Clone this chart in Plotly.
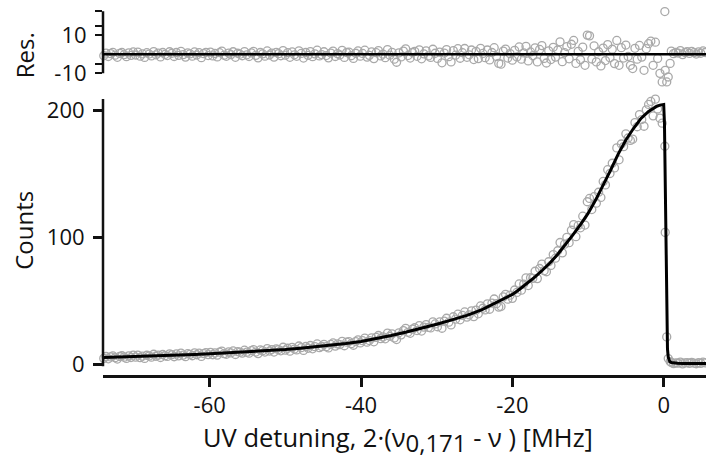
import plotly.graph_objects as go

# ---- measured spectrum: UV detuning [MHz], photon counts, fit residuals ----
detuning = [
    -74.0, -73.7, -73.4, -73.1, -72.8, -72.5, -72.2, -71.9, -71.6, -71.3, -71.0, -70.7, -70.4, -70.1,
    -69.8, -69.5, -69.2, -68.9, -68.6, -68.3, -68.0, -67.7, -67.4, -67.1, -66.8, -66.5, -66.2, -65.9, -65.6, -65.3,
    -65.0, -64.7, -64.4, -64.1, -63.8, -63.5, -63.2, -62.9, -62.6, -62.3, -62.0, -61.7, -61.4, -61.1, -60.8, -60.5, -60.2,
    -59.9, -59.6, -59.3, -59.0, -58.7, -58.4, -58.1, -57.8, -57.5, -57.2, -56.9, -56.6, -56.3, -56.0, -55.7, -55.4, -55.1,
    -54.8, -54.5, -54.2, -53.9, -53.6, -53.3, -53.0, -52.7, -52.4, -52.1, -51.8, -51.5, -51.2, -50.9, -50.6, -50.3, -50.0,
    -49.7, -49.4, -49.1, -48.8, -48.5, -48.2, -47.9, -47.6, -47.3, -47.0, -46.7, -46.4, -46.1, -45.8, -45.5, -45.2,
    -44.9, -44.6, -44.3, -44.0, -43.7, -43.4, -43.1, -42.8, -42.5, -42.2, -41.9, -41.6, -41.3, -41.0, -40.7, -40.4, -40.1,
    -39.8, -39.5, -39.2, -38.9, -38.6, -38.3, -38.0, -37.7, -37.4, -37.1, -36.8, -36.5, -36.2, -35.9, -35.6, -35.3, -35.0,
    -34.7, -34.4, -34.1, -33.8, -33.5, -33.2, -32.9, -32.6, -32.3, -32.0, -31.7, -31.4, -31.1, -30.8, -30.5, -30.2,
    -29.9, -29.6, -29.3, -29.0, -28.7, -28.4, -28.1, -27.8, -27.5, -27.2, -26.9, -26.6, -26.3, -26.0, -25.7, -25.4, -25.1,
    -24.8, -24.5, -24.2, -23.9, -23.6, -23.3, -23.0, -22.7, -22.4, -22.1, -21.8, -21.5, -21.2, -20.9, -20.6, -20.3,
    -20.0, -19.7, -19.4, -19.1, -18.8, -18.5, -18.2, -17.9, -17.6, -17.3, -17.0, -16.7, -16.4, -16.1, -15.8, -15.5, -15.2,
    -14.9, -14.6, -14.3, -14.0, -13.7, -13.4, -13.1, -12.8, -12.5, -12.2,
    -11.9, -11.6, -11.3, -11.0, -10.7, -10.4, -10.1,
    -9.8, -9.5, -9.2, -8.9, -8.6, -8.3, -8.0,
    -7.7, -7.4, -7.1, -6.8, -6.5, -6.2,
    -5.9, -5.6, -5.3, -5.0,
    -4.7, -4.4, -4.1,
    -3.8, -3.5, -3.2,
    -2.9, -2.6, -2.3, -2.0,
    -1.7, -1.4, -1.1,
    -0.8, -0.5, -0.2,
    0.15, 0.2, 0.4, 0.6, 0.85,
    1.0, 1.3, 1.6, 1.9, 2.2, 2.5, 2.8, 3.1, 3.4, 3.7, 4.0, 4.3, 4.6, 4.9, 5.2, 5.5, 5.8,
]

counts = [
    4.5, 6.0, 4.2, 5.7, 6.5, 5.0, 4.0, 6.0, 6.6, 5.5, 4.5, 6.5, 5.2, 7.1,
    5.5, 7.1, 5.1, 6.3, 4.5, 7.0, 6.4, 5.5, 7.8, 6.2, 7.1, 5.2, 7.6, 6.6, 6.1, 8.1,
    7.4, 5.8, 8.0, 6.5, 8.7, 7.1, 5.9, 8.2, 7.7, 6.6, 8.9, 7.4, 8.6, 6.1, 8.3, 9.1, 7.5,
    9.3, 7.4, 8.8, 7.1, 9.4, 10.3, 8.3, 7.8, 9.6, 8.8, 10.4, 7.6, 9.8, 9.4, 8.7, 11.0, 9.4,
    8.6, 10.6, 11.5, 9.5, 8.3, 11.2, 10.6, 9.5, 12.3, 10.3, 11.5, 9.5, 12.1, 11.5, 10.5, 13.3, 11.0,
    12.5, 10.2, 13.2, 11.9, 11.2, 14.3, 13.0, 10.8, 13.9, 12.5, 14.7, 12.1, 13.8, 15.9, 13.0, 13.9,
    15.6, 13.8, 12.8, 15.5, 16.7, 14.2, 15.9, 15.4, 18.0, 14.5, 17.3, 17.8, 16.1, 14.9, 17.8, 19.2, 16.7,
    18.5, 20.5, 17.3, 18.6, 20.7, 17.6, 21.1, 22.6, 20.1, 21.5, 20.0, 24.5, 22.0, 23.9, 20.7, 19.4, 24.7,
    23.1, 26.5, 28.2, 25.1, 24.3, 27.6, 28.7, 26.5, 30.4, 26.1, 29.2, 31.2, 29.0, 28.6, 33.4, 31.7,
    29.5, 33.3, 28.3, 33.9, 36.2, 33.1, 30.9, 37.4, 35.5, 39.4, 35.0, 38.4, 41.2, 37.1, 38.9, 42.0, 37.5,
    42.6, 39.7, 45.9, 44.1, 42.8, 47.6, 43.3, 48.1, 51.4, 47.7, 45.0, 45.5, 53.1, 55.1, 51.3, 54.4,
    51.9, 58.5, 56.6, 63.3, 58.4, 63.2, 68.1, 62.0, 68.2, 67.7, 73.3, 67.5, 75.5, 79.0, 73.8, 72.9, 80.8,
    77.9, 86.5, 83.6, 89.5, 96.0, 87.8, 94.7, 100.1, 95.9, 105.7,
    110.1, 100.6, 109.5, 107.6, 116.8, 109.8, 128.2,
    130.8, 122.0, 132.2, 127.1, 135.7, 131.6, 144.2,
    141.5, 153.5, 150.5, 158.6, 154.9, 170.7,
    161.3, 173.8, 171.7, 181.8,
    178.5, 176.6, 177.6,
    190.7, 187.4, 197.0,
    193.1, 187.8, 200.8, 205.0,
    207.4, 196.0, 209.2,
    201.4, 194.2, 190.2,
    172.0, 104.0, 21.5, 4.4, 2.0,
    1.3, 0.4, 1.0, 0.7, 1.6, 0.2, 0.9, 1.2, 0.5, 1.4, 0.8, 0.3, 1.1, 0.6, 1.5, 0.9, 0.4,
]

residuals = [
    -0.8, 0.6, -1.2, 0.3, 1.0, -0.5, -1.6, 0.4, 0.9, -0.2, -1.3, 0.7, -0.6, 1.2,
    -0.4, 1.1, -1.0, 0.2, -1.7, 0.8, 0.1, -0.9, 1.4, -0.3, 0.6, -1.4, 0.9, -0.1, -0.7, 1.3,
    0.5, -1.2, 0.9, -0.6, 1.5, -0.2, -1.5, 0.7, 0.2, -1.0, 1.2, -0.4, 0.8, -1.8, 0.3, 1.0, -0.7,
    1.1, -0.9, 0.4, -1.4, 0.8, 1.6, -0.5, -1.1, 0.6, -0.2, 1.3, -1.6, 0.5, 0.0, -0.8, 1.4, -0.3,
    -1.2, 0.7, 1.5, -0.6, -1.9, 0.9, 0.2, -1.0, 1.7, -0.4, 0.6, -1.5, 1.0, 0.3, -0.8, 1.9, -0.5,
    0.8, -1.6, 1.2, -0.3, -1.1, 1.8, 0.4, -2.0, 0.9, -0.6, 1.4, -1.3, 0.2, 2.1, -0.9, -0.2,
    1.3, -0.7, -1.9, 0.6, 1.6, -1.2, 0.3, -0.4, 2.0, -1.7, 0.9, 1.1, -0.8, -2.2, 0.5, 1.7, -1.0,
    0.4, 2.1, -1.5, -0.6, 1.2, -2.3, 0.8, 1.9, -0.9, 0.1, -1.8, 2.4, -0.5, 1.0, -2.6, -4.2, 0.7,
    -1.4, 1.6, 2.8, -0.7, -2.0, 0.9, 1.5, -1.1, 2.3, -2.4, 0.2, 1.8, -0.9, -1.7, 2.6, 0.5,
    -2.2, 1.1, -4.5, 0.6, 2.4, -1.3, -4.0, 1.9, -0.5, 2.9, -2.1, 0.8, 3.0, -1.6, -0.3, 2.2, -2.8,
    1.5, -2.3, 3.1, 0.4, -1.8, 2.2, -3.0, 0.9, 3.4, -1.2, -4.8, -5.2, 1.6, 2.7, -2.0, 0.3,
    -3.1, 2.0, -1.4, 3.8, -2.6, 0.7, 4.1, -3.5, 1.2, -0.8, 3.3, -4.0, 2.5, 4.5, -2.2, -4.6, 1.8,
    -2.8, 3.6, -1.5, 2.2, 6.5, -3.9, 0.8, 4.0, -2.4, 5.2,
    7.2, -4.8, 1.5, -2.9, 3.7, -5.8, 10.0,
    9.6, -2.5, 4.4, -4.0, 1.3, -6.1, 3.2,
    -3.3, 5.0, -1.8, 2.6, -4.9, 7.2,
    -5.8, 3.4, -2.0, 4.8,
    -1.2, -5.8, -7.5,
    3.1, -2.6, 4.6,
    -1.5, -8.4, 2.9, 5.5,
    6.8, -5.8, 6.3,
    -2.2, -10.0, -14.5,
    22.3, -8.4, -14.5, -11.9, -4.8,
    1.6, 0.3, 1.0, 0.6, 1.9, -0.2, 0.9, 1.3, 0.4, 1.5, 0.8, 0.1, 1.2, 0.5, 1.7, 0.9, 0.2,
]

# ---- fitted line shape ----
fit_detuning = [
    -74, -72, -70, -68, -66, -64, -62, -60, -58, -56, -54, -52, -50, -48, -46, -44, -42, -40,
    -38, -36, -34, -32, -30, -28, -26, -24, -22, -20, -19, -18, -17, -16, -15, -14, -13, -12,
    -11, -10, -9, -8, -7, -6, -5, -4, -3, -2, -1.5, -1, -0.5, 0,
    0.1, 0.2, 0.3, 0.4, 0.5, 0.6, 0.7, 0.8, 1.0, 1.3, 1.8, 2.5, 5.8,
]
fit_counts = [
    5.3, 5.6, 5.9, 6.3, 6.7, 7.1, 7.65, 8.2, 8.8, 9.4, 10.0, 10.7, 11.5, 12.5, 13.6, 14.9, 16.2, 17.8,
    20.1, 22.6, 25.3, 28.2, 31.5, 34.9, 38.5, 43.0, 48.7, 55.0, 59.3, 63.9, 68.9, 74.3, 80.0, 86.8, 94.1, 102.0,
    110.2, 119.0, 129.5, 141.0, 153.3, 166.0, 177.0, 186.0, 194.0, 199.5, 201.6, 203.3, 204.5, 205.0,
    190.0, 140.0, 70.0, 30.0, 12.0, 5.5, 3.0, 2.0, 1.2, 0.8, 0.6, 0.5, 0.5,
]

# ---- axis ticks ----
x_tickvals = [-60, -40, -20, 0]
x_ticktext = ["-60", "-40", "-20", "0"]
y_tickvals = [0, 100, 200]
y_ticktext = ["0", "100", "200"]
res_tickvals = [-10, 10]
res_ticktext = ["-10", "10"]
res_minor_ticks = [-5, 15, 22.5]

GREY = "#a9a9a9"
INK = "#111111"
FONT = "Open Sans"

marker_style = dict(symbol="circle-open", size=8, color=GREY, line=dict(width=1.3, color=GREY))

fig = go.Figure()

fig.add_trace(go.Scatter(
    x=detuning, y=counts, mode="markers", marker=marker_style,
    xaxis="x", yaxis="y", cliponaxis=False, showlegend=False,
))
fig.add_trace(go.Scatter(
    x=fit_detuning, y=fit_counts, mode="lines", line=dict(color="black", width=3),
    xaxis="x", yaxis="y", cliponaxis=False, showlegend=False,
))
fig.add_trace(go.Scatter(
    x=detuning, y=residuals, mode="markers", marker=marker_style,
    xaxis="x2", yaxis="y2", cliponaxis=False, showlegend=False,
))

axis_common = dict(
    showgrid=False, zeroline=False, ticks="outside", tickcolor=INK,
    tickfont=dict(family=FONT, size=22, color=INK),
)

fig.update_layout(
    width=706, height=466,
    margin=dict(l=103, r=0, t=0, b=91),
    plot_bgcolor="white", paper_bgcolor="white",
    font=dict(family=FONT, color=INK),
    xaxis=dict(
        domain=[0, 1], range=[-74.1, 5.59], anchor="y",
        showline=True, linecolor=INK, linewidth=2.5,
        tickvals=x_tickvals, ticktext=x_ticktext, ticklen=9, tickwidth=2.5,
        **axis_common,
    ),
    yaxis=dict(
        domain=[0, 0.7467], range=[-8.6, 211.3], anchor="x",
        showline=False, tickvals=y_tickvals, ticktext=y_ticktext,
        ticklen=9, tickwidth=2.5, ticklabelstandoff=4, **axis_common,
    ),
    xaxis2=dict(
        domain=[0, 1], range=[-74.1, 5.59], anchor="y2", matches="x",
        visible=False, showgrid=False, zeroline=False,
    ),
    yaxis2=dict(
        domain=[0.7733, 0.9867], range=[-16.9, 24.7], anchor="x2",
        showline=False, tickvals=res_tickvals, ticktext=res_ticktext,
        ticklen=7, tickwidth=2.2, ticklabelstandoff=4,
        minor=dict(tickmode="array", tickvals=res_minor_ticks, ticks="outside",
                   ticklen=7, tickwidth=2.2, tickcolor=INK, showgrid=False),
        **axis_common,
    ),
    shapes=[
        # left axis of the counts panel
        dict(type="line", xref="x domain", yref="y", x0=0, x1=0, y0=-1.6, y1=209.3,
             line=dict(color=INK, width=2.5)),
        # left axis of the residual panel
        dict(type="line", xref="x2 domain", yref="y2", x0=0, x1=0, y0=-10, y1=22.5,
             line=dict(color=INK, width=2.5)),
        # zero reference of the residuals
        dict(type="line", xref="x2 domain", yref="y2", x0=0, x1=1, y0=0, y1=0,
             line=dict(color="black", width=2.5), layer="above"),
    ],
    annotations=[
        dict(text="Counts", xref="paper", yref="paper", x=-0.131, y=0.3867,
             textangle=-90, showarrow=False, xanchor="center", yanchor="middle",
             font=dict(family=FONT, size=24, color=INK)),
        dict(text="Res.", xref="paper", yref="paper", x=-0.131, y=0.857,
             textangle=-90, showarrow=False, xanchor="center", yanchor="middle",
             font=dict(family=FONT, size=24, color=INK)),
        dict(text="UV detuning, 2·(ν<sub><span style='font-size:24px'>0,171</span></sub> - ν ) [MHz]",
             xref="paper", yref="paper", x=0.489, y=-0.1733,
             showarrow=False, xanchor="center", yanchor="middle",
             font=dict(family=FONT, size=25.5, color=INK)),
    ],
)

fig.write_html("out.html")
